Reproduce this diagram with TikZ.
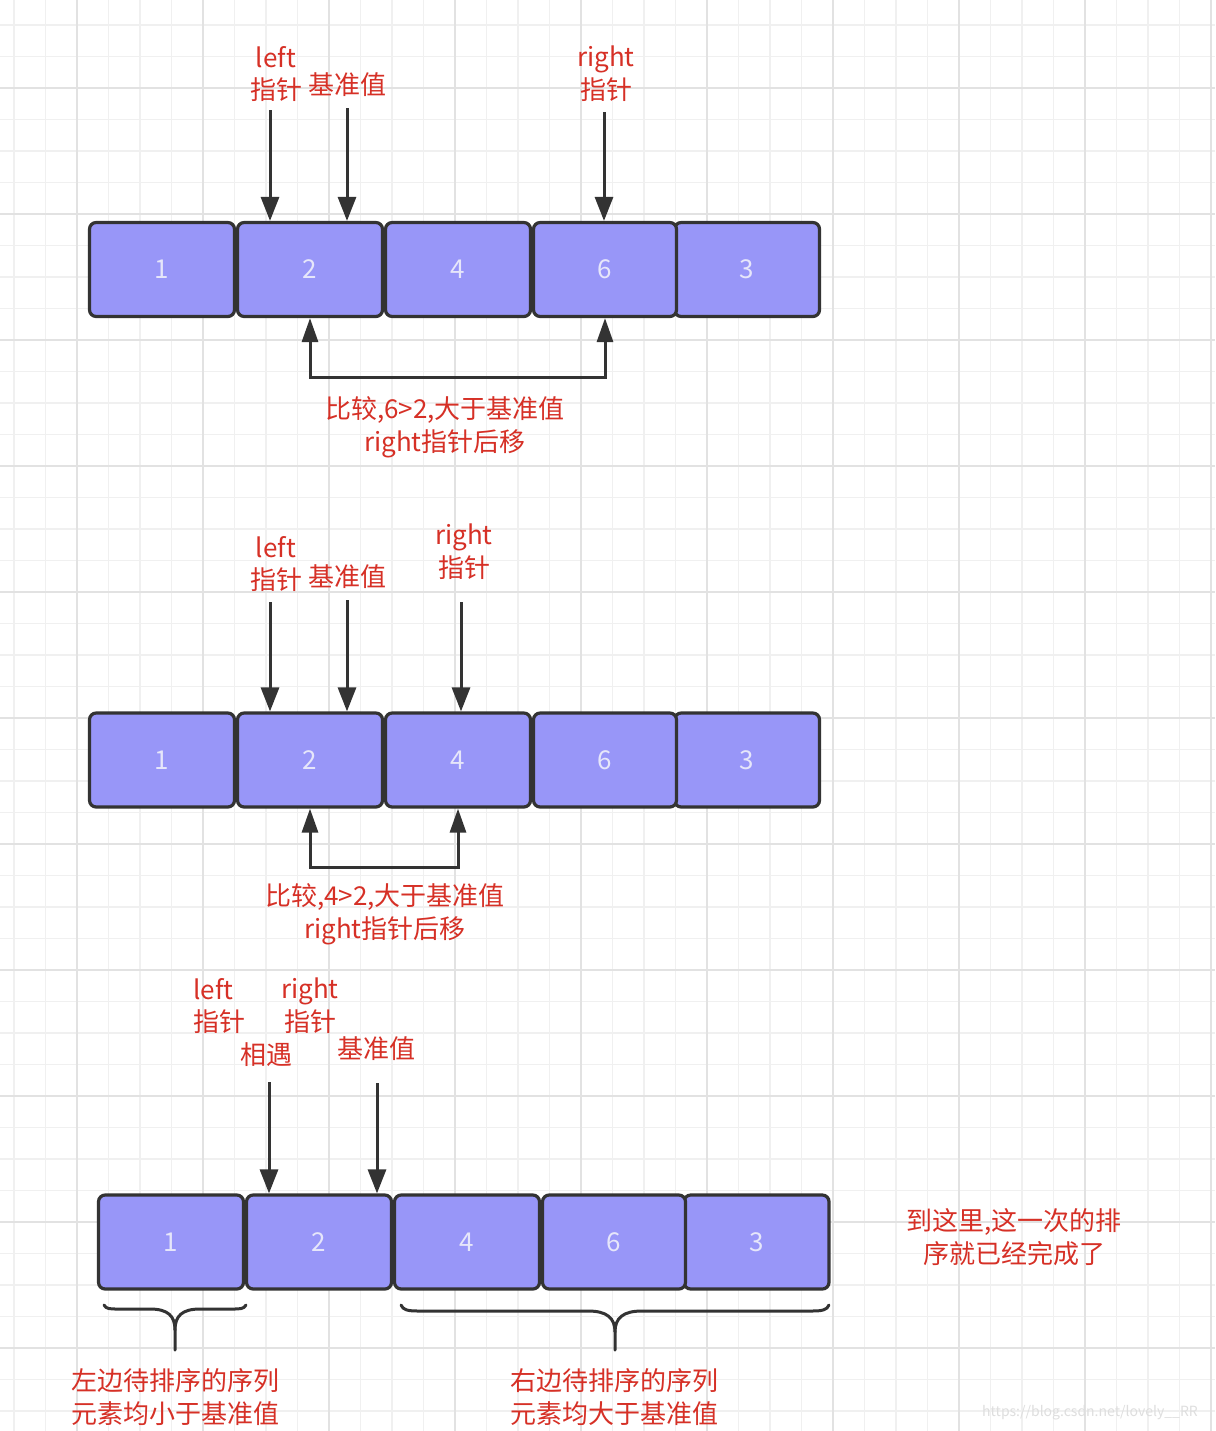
\documentclass[tikz,border=0pt]{standalone}
\usepackage{fontspec}
\newfontfamily\cjk{Noto Sans CJK SC}
\usetikzlibrary{arrows.meta}
\definecolor{gridminor}{RGB}{240,240,240}
\definecolor{gridmajor}{RGB}{226,226,226}
\definecolor{cellfill}{RGB}{152,150,248}
\definecolor{celltext}{RGB}{230,230,250}
\definecolor{dark}{RGB}{51,51,51}
\definecolor{redtxt}{RGB}{214,48,38}
\definecolor{wmark}{RGB}{222,222,222}
\begin{document}
\begin{tikzpicture}[x=0.75pt,y=-0.75pt,
  cell/.style={draw=dark, line width=2.4pt, fill=cellfill, rounded corners=5pt,
    minimum height=70.5pt, minimum width=108.75pt, text=celltext,
    font=\cjk\fontsize{19.5}{24}\selectfont, inner sep=0pt},
  lbl/.style={text=redtxt, font=\cjk\fontsize{19.5}{24.5}\selectfont, align=center, inner sep=0pt},
  ptr/.style={draw=dark, line width=2.25pt, -{Triangle[length=18pt,width=13.5pt]}},
  cmp/.style={draw=dark, line width=2.25pt, {Triangle[length=18pt,width=12pt]}-{Triangle[length=18pt,width=12pt]}},
  bracepath/.style={draw=dark, line width=2.25pt, line cap=round, line join=round}]
% background and grid
\fill[white] (0,0) rectangle (1215,1431);
\useasboundingbox (0,0) rectangle (1215,1431);
\foreach \k in {0,...,38}{
  \pgfmathsetmacro{\xx}{14+31.5*\k}
  \draw[gridminor, line width=1pt] (\xx,0) -- (\xx,1431);}
\foreach \k in {0,...,44}{
  \pgfmathsetmacro{\yy}{25+31.5*\k}
  \draw[gridminor, line width=1pt] (0,\yy) -- (1215,\yy);}
\foreach \k in {2,6,...,38}{
  \pgfmathsetmacro{\xx}{14+31.5*\k}
  \draw[gridmajor, line width=1.3pt] (\xx,0) -- (\xx,1431);}
\foreach \k in {2,6,...,42}{
  \pgfmathsetmacro{\yy}{25+31.5*\k}
  \draw[gridmajor, line width=1.3pt] (0,\yy) -- (1215,\yy);}

% ---------- Row 1 ----------
\node[cell] (r1a) at (162,269.5) {1};
\node[cell] (r1b) at (310,269.5) {2};
\node[cell] (r1c) at (458,269.5) {4};
\node[cell] (r1e) at (747,269.5) {3};
\node[cell, minimum width=107.25pt] (r1d) at (605,269.5) {6};

\node[lbl] (l1left) at (276,74) {left\\指针};
\node[lbl] (l1piv) at (347,85) {基准值};
\node[lbl] (l1right) at (606,74) {right\\指针};
\coordinate (s1a) at (270,110);
\coordinate (s1b) at (347,108);
\coordinate (s1c) at (604,112);
\draw[ptr] (s1a) -- (s1a |- r1b.north);
\draw[ptr] (s1b) -- (s1b |- r1b.north);
\draw[ptr] (s1c) -- (s1c |- r1d.north);
\draw[cmp] (r1b.south) -- ++(0,59) -| (r1d.south);
\node[lbl] (c1txt) at (445,427) {比较,6>2,大于基准值\\right指针后移};

% ---------- Row 2 ----------
\node[cell] (r2a) at (162,760) {1};
\node[cell] (r2b) at (310,760) {2};
\node[cell] (r2c) at (458,760) {4};
\node[cell] (r2e) at (747,760) {3};
\node[cell, minimum width=107.25pt] (r2d) at (605,760) {6};

\node[lbl] (l2left) at (276,564) {left\\指针};
\node[lbl] (l2piv) at (347,577) {基准值};
\node[lbl] (l2right) at (464,552) {right\\指针};
\coordinate (s2a) at (270,602);
\coordinate (s2b) at (347,600);
\coordinate (s2c) at (461,602);
\draw[ptr] (s2a) -- (s2a |- r2b.north);
\draw[ptr] (s2b) -- (s2b |- r2b.north);
\draw[ptr] (s2c) -- (s2c |- r2c.north);
\draw[cmp] (r2b.south) -- ++(0,59) -| (r2c.south);
\node[lbl] (c2txt) at (385,914) {比较,4>2,大于基准值\\right指针后移};

% ---------- Row 3 ----------
\node[cell] (r3a) at (171,1242) {1};
\node[cell] (r3b) at (319,1242) {2};
\node[cell] (r3c) at (467,1242) {4};
\node[cell] (r3e) at (756.5,1242) {3};
\node[cell, minimum width=107.25pt] (r3d) at (614,1242) {6};

\node[lbl, align=left, anchor=west] (l3left) at (193,1006) {left\\指针};
\node[lbl] (l3right) at (310,1006) {right\\指针};
\node[lbl] (l3meet) at (266,1055) {相遇};
\node[lbl] (l3piv) at (376,1049) {基准值};
\coordinate (s3a) at (269,1082);
\coordinate (s3b) at (377,1083);
\draw[ptr] (s3a) -- (s3a |- r3b.north);
\draw[ptr] (s3b) -- (s3b |- r3b.north);

\node[lbl] (donetxt) at (1014,1237) {到这里,这一次的排\\序就已经完成了};

% braces
\draw[bracepath] (104,1305) .. controls (106,1309) and (110,1309) .. (118,1309)
  -- (150,1309) .. controls (168,1309) and (175,1316) .. (175,1330) -- (175,1350);
\draw[bracepath] (175,1330) .. controls (175,1316) and (182,1309) .. (200,1309)
  -- (232,1309) .. controls (240,1309) and (244,1309) .. (246,1305);
\draw[bracepath] (401,1305) .. controls (403,1310) and (408,1311) .. (418,1311)
  -- (588,1311) .. controls (607,1311) and (615,1318) .. (615,1332) -- (615,1350);
\draw[bracepath] (615,1332) .. controls (615,1318) and (623,1311) .. (642,1311)
  -- (812,1311) .. controls (822,1311) and (827,1310) .. (829,1305);

\node[lbl] (lefttxt) at (175,1397) {左边待排序的序列\\元素均小于基准值};
\node[lbl] (righttxt) at (614,1397) {右边待排序的序列\\元素均大于基准值};

\node[text=wmark, font=\cjk\fontsize{10.5}{12}\selectfont, inner sep=0pt] (wm) at (1090,1413) {https://blog.csdn.net/lovely\_\_RR};
\end{tikzpicture}
\end{document}
